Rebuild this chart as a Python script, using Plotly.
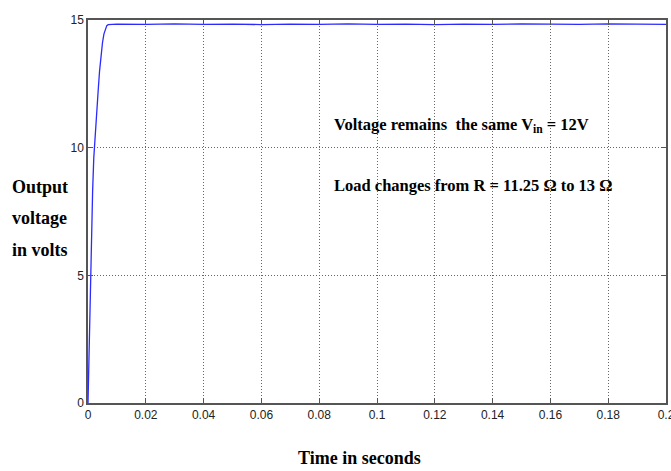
import plotly.graph_objects as go

# Time samples (s) and output voltage (V)
time_s = [0, 0.0003, 0.0006, 0.0009, 0.0012, 0.0016, 0.002, 0.0025, 0.003, 0.0035,
          0.004, 0.0045, 0.005, 0.0055, 0.006, 0.0065, 0.007, 0.01, 0.02, 0.03,
          0.04, 0.05, 0.06, 0.07, 0.08, 0.09, 0.1, 0.11, 0.12, 0.13, 0.14, 0.15,
          0.16, 0.17, 0.18, 0.19, 0.2]
volts = [0, 1.8, 3.5, 5.0, 6.6, 8.3, 9.6, 10.6, 11.4, 12.2,
         13.0, 13.6, 14.1, 14.45, 14.65, 14.78, 14.82, 14.84, 14.83, 14.85,
         14.83, 14.84, 14.82, 14.84, 14.83, 14.85, 14.83, 14.84, 14.82, 14.84, 14.83, 14.85,
         14.84, 14.83, 14.85, 14.84, 14.83]

x_ticks = [0, 0.02, 0.04, 0.06, 0.08, 0.1, 0.12, 0.14, 0.16, 0.18, 0.2]
x_tick_labels = ["0", "0.02", "0.04", "0.06", "0.08", "0.1", "0.12", "0.14", "0.16", "0.18", "0.2"]
y_ticks = [0, 5, 10, 15]
y_tick_labels = ["0", "5", "10", "15"]
y_label_lines = ["Output", "voltage", "in volts"]

tick_font = dict(family="Liberation Sans Narrow, Arial Narrow, Liberation Sans", size=12, color="#222")
serif = "Liberation Serif, Times New Roman"

fig = go.Figure()
fig.add_trace(go.Scatter(x=time_s, y=volts, mode="lines",
                         line=dict(color="#2b2bff", width=1.3), showlegend=False))

axis_common = dict(showline=True, linecolor="#555", linewidth=1.5, mirror="ticks",
                   showgrid=True, gridcolor="#666", griddash="1px,2px", gridwidth=1,
                   ticks="inside", ticklen=5, tickcolor="#555", zeroline=False,
                   tickfont=tick_font, automargin=False, ticklabeloverflow="allow")

fig.update_xaxes(range=[0, 0.2], tickvals=x_ticks, ticktext=x_tick_labels, **axis_common)
fig.update_yaxes(range=[0, 15], tickvals=y_ticks, ticktext=y_tick_labels, **axis_common)

fig.add_annotation(text="<b>Voltage remains  the same V<sub>in</sub> = 12V</b>",
                   xref="paper", yref="paper", x=0.422, y=0.726, xanchor="left", yanchor="middle",
                   showarrow=False, font=dict(family=serif, size=16.5, color="black"))
fig.add_annotation(text="<b>Load changes from R = 11.25 \u03a9 to 13 \u03a9</b>",
                   xref="paper", yref="paper", x=0.422, y=0.569, xanchor="left", yanchor="middle",
                   showarrow=False, font=dict(family=serif, size=16.5, color="black"))
for i, line in enumerate(y_label_lines):
    fig.add_annotation(text=f"<b>{line}</b>",
                       xref="paper", yref="paper", x=-0.135, y=0.565 - i * 0.083,
                       xanchor="left", yanchor="middle",
                       showarrow=False, font=dict(family=serif, size=18, color="black"))
fig.add_annotation(text="<b>Time in seconds</b>",
                   xref="paper", yref="paper", x=0.47, y=-0.143, xanchor="center", yanchor="middle",
                   showarrow=False, font=dict(family=serif, size=18, color="black"))

fig.update_layout(width=671, height=471, margin=dict(l=88, r=5, t=20, b=68),
                  paper_bgcolor="white", plot_bgcolor="white")

# remove the default page margin so the figure fills the window exactly
fig.write_html("out.html", config={"displayModeBar": False},
               post_script="document.body.style.margin='0';document.body.style.overflow='hidden';")
